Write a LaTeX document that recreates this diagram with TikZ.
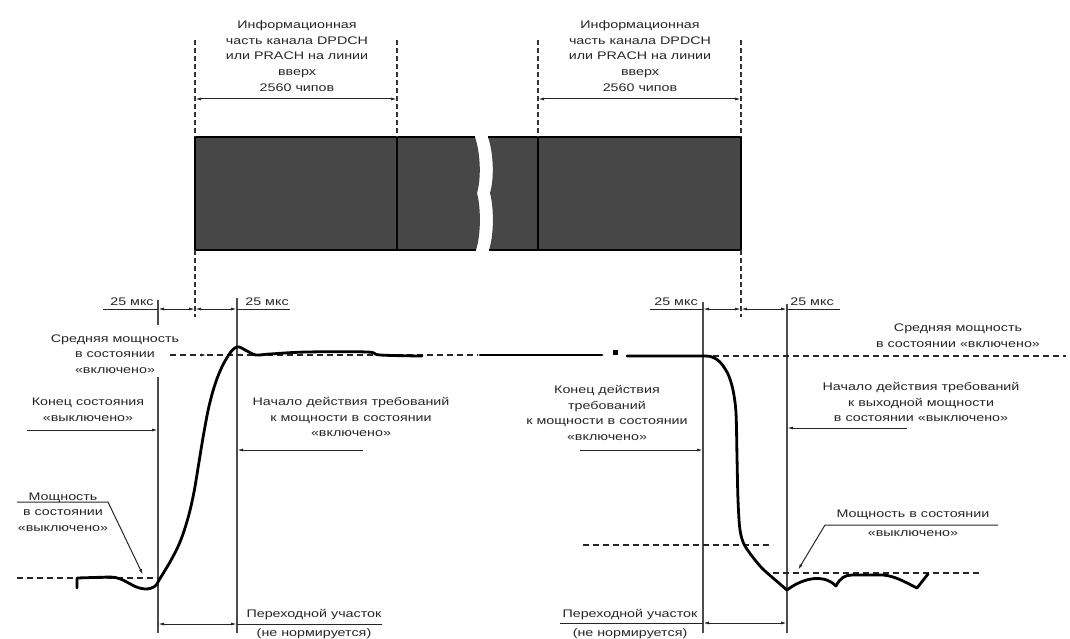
\documentclass[tikz,border=0pt]{standalone}
\usepackage{fontspec}
\setmainfont{Liberation Sans}[FakeStretch=1.3]
\usetikzlibrary{arrows.meta}
\begin{document}
\begin{tikzpicture}[x=1pt,y=-1pt,
  lbl/.style={align=center, font=\fontsize{11}{15.7}\selectfont, text=black!85, inner sep=0pt},
  solidv/.style={draw=black!70, line width=1.2pt},
  plain/.style={draw=black!85, line width=1pt},
  dimarr/.style={draw=black!85, line width=1pt, {Latex[length=6pt,width=3pt]}-{Latex[length=6pt,width=3pt]}},
  arr/.style={draw=black!85, line width=1pt, -{Latex[length=6pt,width=3pt]}},
  dashv/.style={draw=black!80, line width=1.1pt, dash pattern=on 5pt off 3pt},
  dashh/.style={draw=black!85, line width=1.1pt, dash pattern=on 6pt off 4pt},
  curve/.style={draw=black, line width=2.8pt, line join=round, line cap=round},
  boxfill/.style={fill=black!72},
  boxline/.style={draw=black, line width=1.5pt}]
\useasboundingbox (0,0) rectangle (1070,639);

% ---------- key coordinates ----------
\coordinate (A1) at (195,40);  \coordinate (A2) at (195,137); \coordinate (A3) at (195,250); \coordinate (A4) at (195,317);
\coordinate (B1) at (397,40);  \coordinate (B2) at (397,137); \coordinate (B3) at (397,250);
\coordinate (C1) at (538,40);  \coordinate (C2) at (538,137); \coordinate (C3) at (538,250);
\coordinate (D1) at (741,40);  \coordinate (D2) at (741,137); \coordinate (D3) at (741,250); \coordinate (D4) at (741,317);

% ---------- bar ----------
\fill[boxfill] (195,137) -- (475,137) .. controls (481,155) and (481,180) .. (477,193) .. controls (481,208) and (481,235) .. (476,250) -- (195,250) -- cycle;
\fill[boxfill] (488,137) -- (741,137) -- (741,250) -- (489,250) .. controls (494,235) and (494,208) .. (490,193) .. controls (494,180) and (494,155) .. (488,137) -- cycle;
\draw[boxline] (475,137) -- (A2) -- (A3) -- (476,250);
\draw[boxline] (488,137) -- (D2) -- (D3) -- (489,250);
\draw[boxline] (B2) -- (B3);
\draw[boxline] (C2) -- (C3);

% ---------- dashed verticals ----------
\draw[dashv] (A1) -- (A2);
\draw[dashv] (A3) -- (A4);
\draw[dashv] (B1) -- (B2);
\draw[dashv] (C1) -- (C2);
\draw[dashv] (D1) -- (D2);
\draw[dashv] (D3) -- (D4);

% ---------- top dimensions ----------
\coordinate (ta1) at (195,99); \coordinate (ta2) at (397,99);
\coordinate (tb1) at (538,99); \coordinate (tb2) at (741,99);
\draw[dimarr] (ta1) -- (ta2);
\draw[dimarr] (tb1) -- (tb2);
\node[lbl] (info1) at (297,56) {Информационная\\часть канала DPDCH\\или PRACH на линии\\вверх\\2560 чипов};
\node[lbl] (info2) at (640,56) {Информационная\\часть канала DPDCH\\или PRACH на линии\\вверх\\2560 чипов};

% ---------- solid verticals ----------
\coordinate (L1a) at (158,300); \coordinate (L1b) at (158,325); \coordinate (L1c) at (158,377); \coordinate (L1d) at (158,633);
\coordinate (L2a) at (237,298); \coordinate (L2d) at (237,633);
\coordinate (R1a) at (703,302); \coordinate (R1d) at (703,633);
\coordinate (R2a) at (787,304); \coordinate (R2d) at (787,633);
\draw[solidv] (L1a) -- (L1b);
\draw[solidv] (L1c) -- (L1d);
\draw[solidv] (L2a) -- (L2d);
\draw[solidv] (R1a) -- (R1d);
\draw[solidv] (R2a) -- (R2d);

% ---------- 25 us dimensions ----------
\coordinate (m0) at (103,309); \coordinate (m1) at (158,309); \coordinate (m2) at (195,309); \coordinate (m3) at (237,309); \coordinate (m4) at (290,309);
\draw[plain] (m0) -- (m1);
\draw[dimarr] (m1) -- (m2);
\draw[dimarr] (m2) -- (m3);
\draw[plain] (m3) -- (m4);
\node[lbl] (us1) at (132,302) {25 мкс};
\node[lbl] (us2) at (267,302) {25 мкс};
\coordinate (n0) at (650,309); \coordinate (n1) at (703,309); \coordinate (n2) at (741,309); \coordinate (n3) at (787,309); \coordinate (n4) at (840,309);
\draw[plain] (n0) -- (n1);
\draw[dimarr] (n1) -- (n2);
\draw[dimarr] (n2) -- (n3);
\draw[plain] (n3) -- (n4);
\node[lbl] (us3) at (676,302) {25 мкс};
\node[lbl] (us4) at (812,302) {25 мкс};

% ---------- reference levels ----------
\coordinate (on0) at (170,355); \coordinate (onA) at (207,355); \coordinate (on1) at (478,355);
\draw[dashh, -{Latex[length=6pt,width=3pt]}] (on0) -- (onA);
\draw[dashh] (onA) -- (on1);
\coordinate (on2) at (703,356); \coordinate (on3) at (1066,356);
\draw[dashh] (on2) -- (on3);
\coordinate (off0) at (17,578); \coordinate (off1) at (158,578);
\draw[dashh] (off0) -- (off1);
\coordinate (off2) at (773,573); \coordinate (off3) at (980,573);
\draw[dashh] (off2) -- (off3);
\coordinate (mid0) at (583,545); \coordinate (mid1) at (773,545);
\draw[dashh] (mid0) -- (mid1);

% ---------- power curve ----------
\draw[curve] (77,588) -- (77,578) -- (110,577) .. controls (125,577) and (131,588) .. (145,589) .. controls (153,589) and (157,586) .. (159,580);
\draw[curve] plot[smooth, tension=0.6] coordinates {(159,580) (170,562) (180,542) (188,518) (194,492) (199,462) (204,432) (210,402) (218,376) (228,356) (237,347) (247,351) (256,355) (270,354) (307,352) (367,352) (380,355) (422,356)};
\coordinate (s0) at (480,355); \coordinate (s1) at (602,355);
\draw[curve] (s0) -- (s1);
\fill (612.5,349.5) rectangle (617.5,354.5);
\draw[curve] plot[smooth, tension=0.5] coordinates {(627,356) (700,356) (712,357) (720,362) (728,374) (733,390) (736,413) (737,457) (738,500) (740,530) (745,546) (760,566) (773,578) (787,590)};
\draw[curve] (787,590) .. controls (800,580) and (822,572) .. (836,586) .. controls (840,578) and (845,575) .. (852,575) -- (883,575) .. controls (895,576) and (905,582) .. (917,588) -- (928,574);

% ---------- left labels ----------
\node[lbl] (avgL) at (115,354) {Средняя мощность\\в состоянии\\«включено»};
\node[lbl] (endOff) at (88,410) {Конец состояния\\«выключено»};
\coordinate (eo0) at (27,430); \coordinate (eo1) at (158,430);
\draw[arr] (eo0) -- (eo1);
\node[lbl] (startOn) at (351,417) {Начало действия требований\\к мощности в состоянии\\«включено»};
\coordinate (so0) at (363,450); \coordinate (so1) at (237,450);
\draw[arr] (so0) -- (so1);
\node[lbl] (offL) at (63,512) {Мощность\\в состоянии\\«выключено»};
\coordinate (ol0) at (17,502); \coordinate (ol1) at (108,502); \coordinate (ol2) at (143,575);
\draw[arr] (ol0) -- (ol1) -- (ol2);
\coordinate (pl0) at (158,624); \coordinate (pl1) at (237,624); \coordinate (pl2) at (382,624);
\draw[dimarr] (pl0) -- (pl1);
\draw[plain] (pl1) -- (pl2);
\node[lbl] (trL1) at (314,615) {Переходной участок};
\node[lbl] (trL2) at (314,634) {(не нормируется)};

% ---------- right labels ----------
\node[lbl] (endOn) at (607,413) {Конец действия\\требований\\к мощности в состоянии\\«включено»};
\coordinate (en0) at (580,450); \coordinate (en1) at (703,450);
\draw[arr] (en0) -- (en1);
\node[lbl] (avgR) at (958,336) {Средняя мощность\\в состоянии «включено»};
\node[lbl] (startOff) at (921,402) {Начало действия требований\\к выходной мощности\\в состоянии «выключено»};
\coordinate (sf0) at (907,428); \coordinate (sf1) at (787,428);
\draw[arr] (sf0) -- (sf1);
\node[lbl] (offR1) at (913,515) {Мощность в состоянии};
\node[lbl] (offR2) at (913,534) {«выключено»};
\coordinate (or0) at (998,525); \coordinate (or1) at (825,525); \coordinate (or2) at (798,570);
\draw[arr] (or0) -- (or1) -- (or2);
\coordinate (pr0) at (560,623); \coordinate (pr1) at (703,623); \coordinate (pr2) at (787,623);
\draw[plain] (pr0) -- (pr1);
\draw[dimarr] (pr1) -- (pr2);
\node[lbl] (trR1) at (630,615) {Переходной участок};
\node[lbl] (trR2) at (630,634) {(не нормируется)};
\end{tikzpicture}
\end{document}
